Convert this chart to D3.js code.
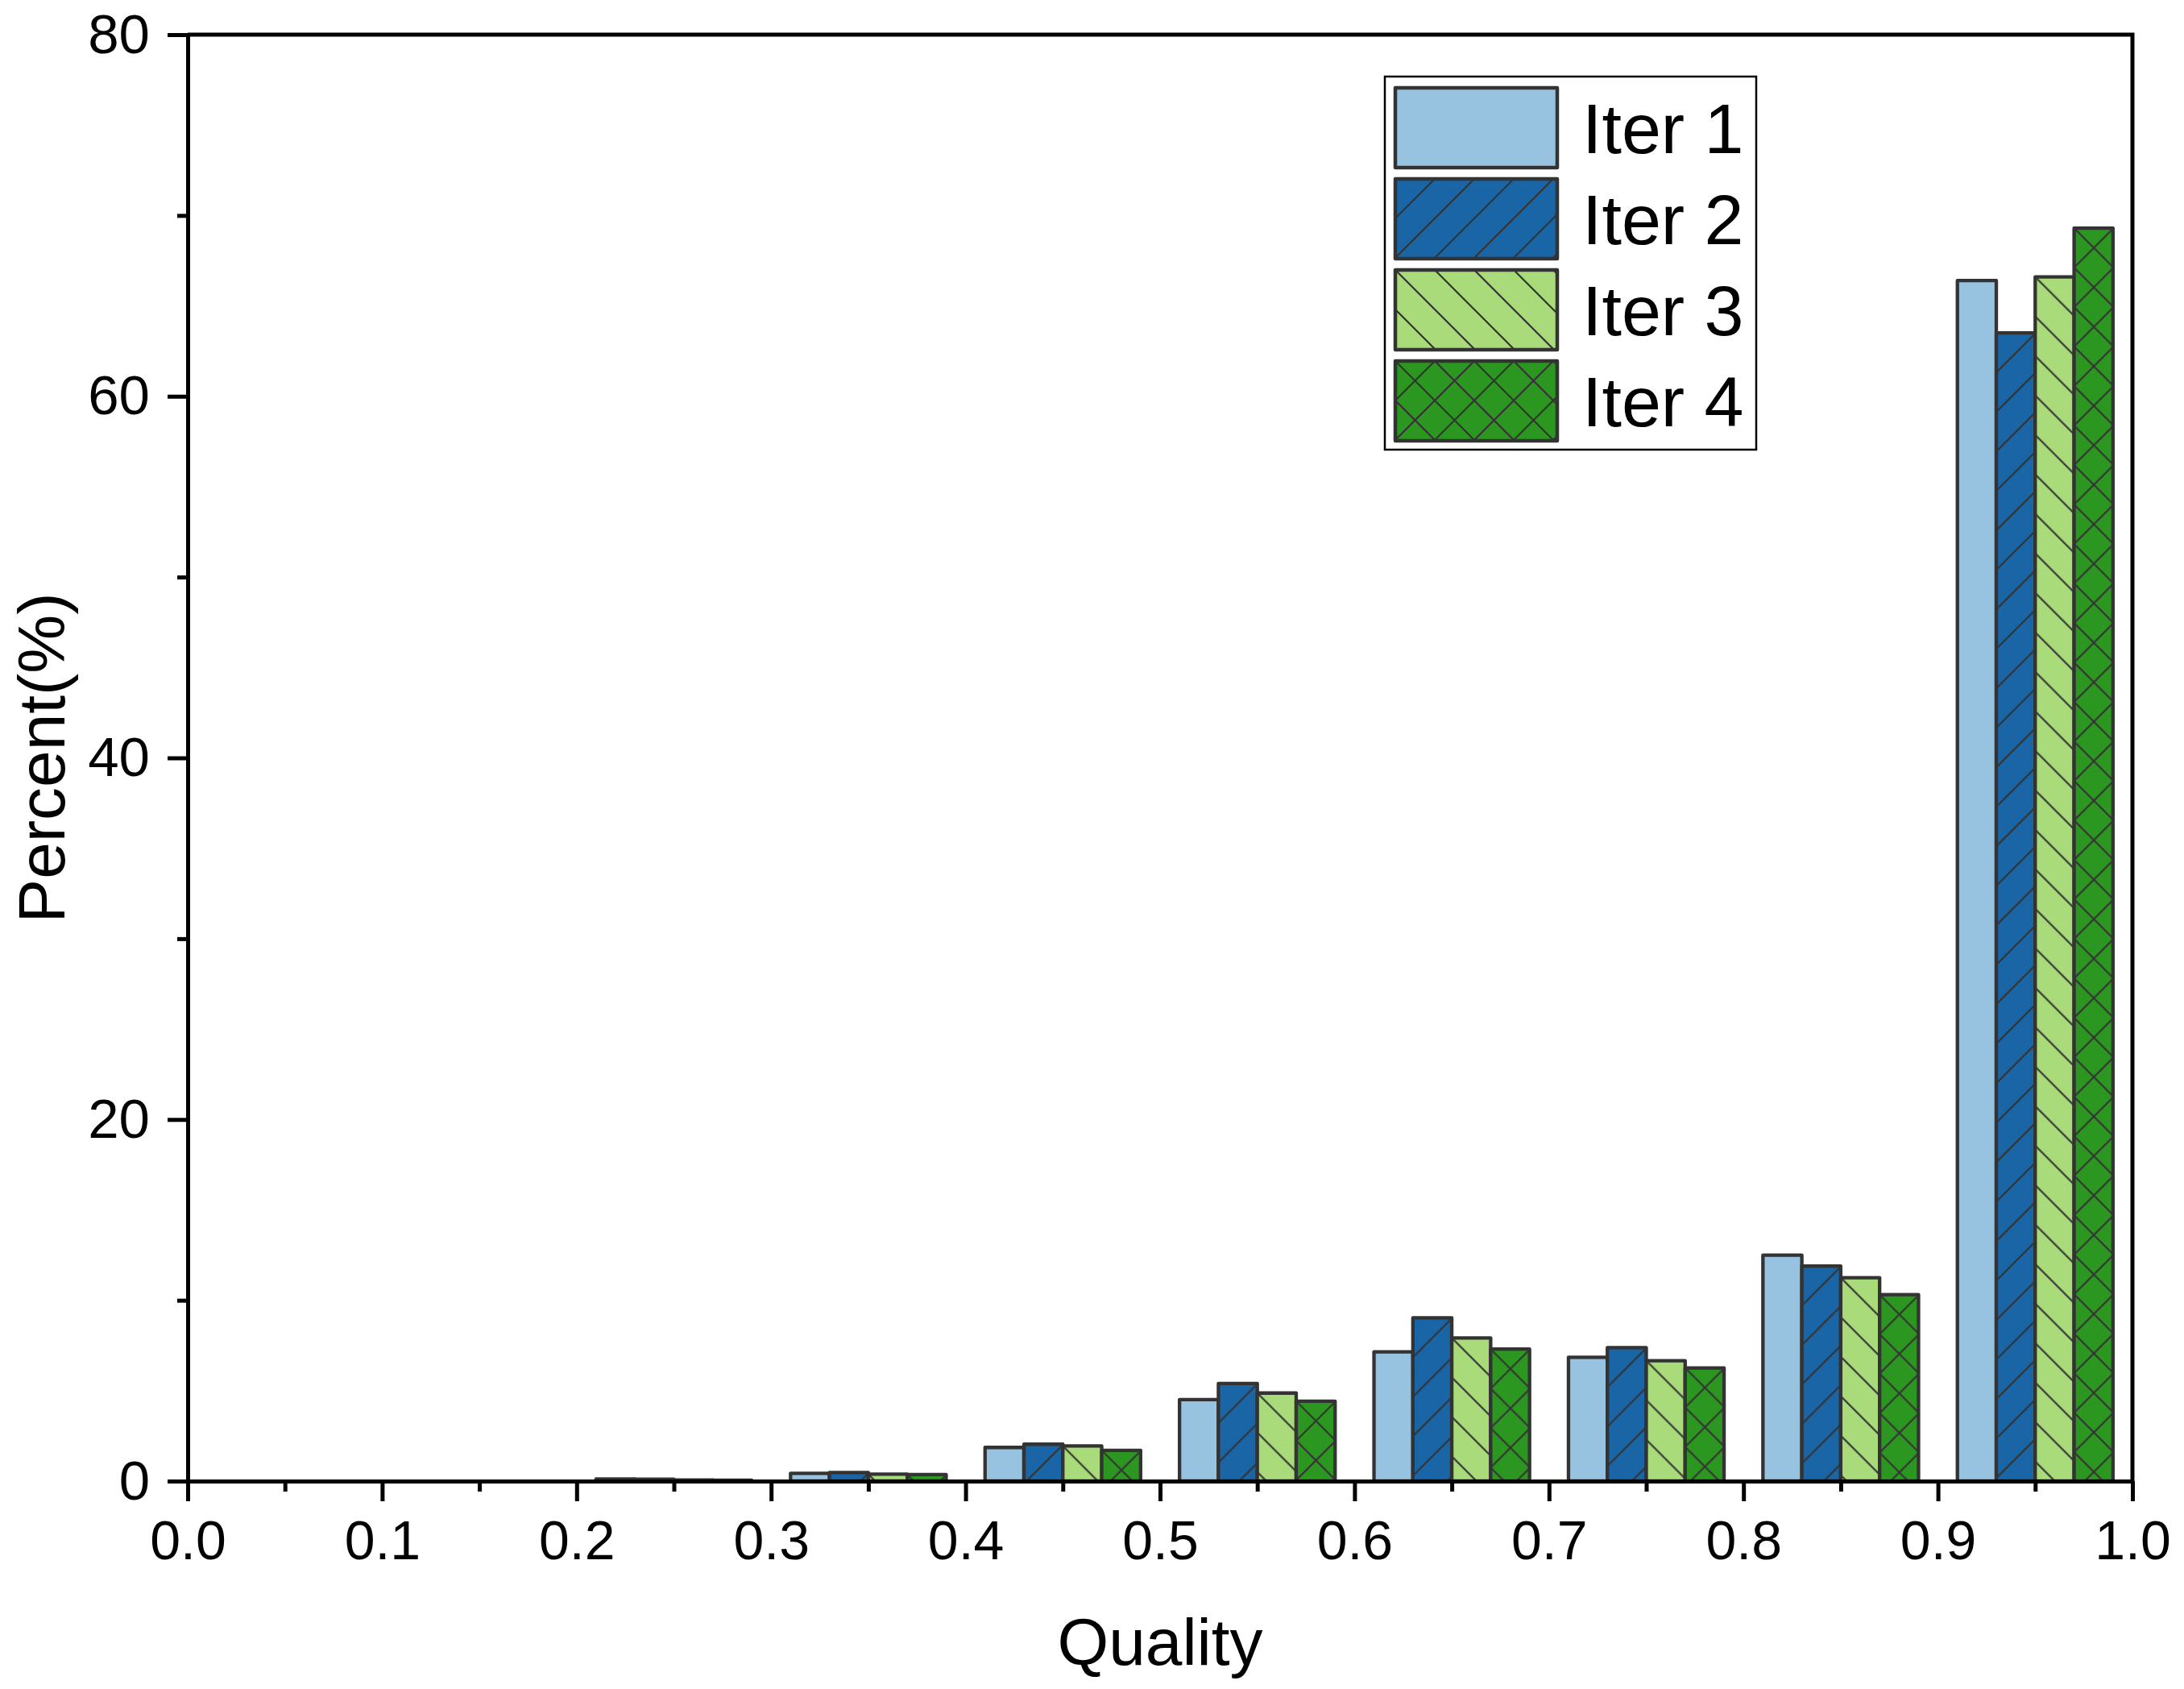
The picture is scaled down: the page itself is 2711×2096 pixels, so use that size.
<!DOCTYPE html>
<html>
<head>
<meta charset="utf-8">
<script src="https://cdn.jsdelivr.net/npm/d3@7"></script>
<style>
  html, body { margin: 0; padding: 0; background: #fff; }
  svg { display: block; font-family: "Liberation Sans", Arial, sans-serif; }
</style>
</head>
<body>
<svg id="chart" width="2711" height="2096"></svg>
<script>
// ---- data ----
const binStarts = [0.0, 0.1, 0.2, 0.3, 0.4, 0.5, 0.6, 0.7, 0.8, 0.9];
const seriesNames = ["Iter 1", "Iter 2", "Iter 3", "Iter 4"];
const iter1 = [0, 0, 0.12, 0.43, 1.86, 4.51, 7.15, 6.85, 12.50, 66.4];
const iter2 = [0, 0, 0.10, 0.47, 2.04, 5.40, 9.03, 7.38, 11.89, 63.5];
const iter3 = [0, 0, 0.06, 0.38, 1.94, 4.87, 7.92, 6.66, 11.25, 66.6];
const iter4 = [0, 0, 0.05, 0.36, 1.70, 4.42, 7.30, 6.26, 10.31, 69.3];
const xTicks = [0.0, 0.1, 0.2, 0.3, 0.4, 0.5, 0.6, 0.7, 0.8, 0.9, 1.0];
const xMinorTicks = [0.05, 0.15, 0.25, 0.35, 0.45, 0.55, 0.65, 0.75, 0.85, 0.95];
const yTicks = [0, 20, 40, 60, 80];
const yMinorTicks = [10, 30, 50, 70];
const xTitle = "Quality";
const yTitle = "Percent(%)";

// ---- styles ----
const colors = ["#97C3E1", "#1965A5", "#A9DB7A", "#2C9720"];
const hatches = [null, "fwd", "back", "cross"];
const barWidth = 0.02, groupOffset = 0.01;

const svg = d3.select("#chart");
const W = 2711, H = 2096;
const pL = 233, pR = 2647, pT = 43, pB = 1838;

svg.append("rect").attr("width", W).attr("height", H).attr("fill", "#fff");

const x = d3.scaleLinear().domain([0, 1]).range([pL, pR]);
const y = d3.scaleLinear().domain([0, 80]).range([pB, pT]);

// ---- patterns (anchored at each shape's top-left via local coords) ----
const defs = svg.append("defs");
const T = 49;
function makePattern(id, color, type) {
  const p = defs.append("pattern").attr("id", id)
    .attr("patternUnits", "userSpaceOnUse")
    .attr("width", T).attr("height", T);
  p.append("rect").attr("width", T).attr("height", T).attr("fill", color);
  const fwd = `M0,${T} L${T},0 M-12,12 L12,-12 M${T-12},${T+12} L${T+12},${T-12}`;
  const back = `M0,0 L${T},${T} M-12,${T-12} L12,${T+12} M${T-12},-12 L${T+12},12`;
  const d = type === "fwd" ? fwd : type === "back" ? back : fwd + " " + back;
  p.append("path").attr("d", d).attr("stroke", "#333").attr("stroke-width", 2.2).attr("fill", "none");
}
const fills = colors.map((c, i) => {
  if (!hatches[i]) return c;
  makePattern("pat" + i, c, hatches[i]);
  return "url(#pat" + i + ")";
});

// ---- bars ----
const series = [iter1, iter2, iter3, iter4];
const barData = [];
series.forEach((vals, si) => {
  vals.forEach((v, bi) => {
    barData.push({ s: si, x0: binStarts[bi] + groupOffset + si * barWidth, v: v });
  });
});
const barG = svg.append("g").selectAll("g").data(barData.filter(d => d.v > 0)).join("g")
  .attr("transform", d => `translate(${x(d.x0)},${y(d.v)})`);
barG.append("rect")
  .attr("x", 0).attr("y", 0)
  .attr("width", d => x(d.x0 + barWidth) - x(d.x0))
  .attr("height", d => y(0) - y(d.v))
  .attr("fill", d => fills[d.s])
  .attr("stroke", "#333")
  .attr("stroke-width", 4.3)
  .attr("stroke-linejoin", "round");

// ---- frame (top & right) ----
svg.append("path")
  .attr("d", `M${pL},${pT} L${pR},${pT} L${pR},${pB}`)
  .attr("fill", "none").attr("stroke", "#000").attr("stroke-width", 5);

// ---- axes ----
const axisW = 5;
function styleAxis(g, fs) {
  g.selectAll(".domain").attr("stroke", "#000").attr("stroke-width", axisW);
  g.selectAll(".tick line").attr("stroke", "#000").attr("stroke-width", axisW);
  g.selectAll(".tick text").attr("fill", "#000").attr("font-size", fs)
    .attr("font-family", '"Liberation Sans", Arial, sans-serif');
}
const xAxisMinor = svg.append("g").attr("transform", `translate(0,${pB})`)
  .call(d3.axisBottom(x).tickValues(xMinorTicks).tickSize(13).tickFormat(""));
styleAxis(xAxisMinor, 68);
xAxisMinor.select(".domain").remove();
const xAxis = svg.append("g").attr("transform", `translate(0,${pB})`)
  .call(d3.axisBottom(x).tickValues(xTicks).tickSize(25).tickSizeOuter(0)
    .tickPadding(24).tickFormat(d3.format(".1f")));
styleAxis(xAxis, 68);

const yAxisMinor = svg.append("g").attr("transform", `translate(${pL},0)`)
  .call(d3.axisLeft(y).tickValues(yMinorTicks).tickSize(13).tickFormat(""));
styleAxis(yAxisMinor, 69);
yAxisMinor.select(".domain").remove();
const yAxis = svg.append("g").attr("transform", `translate(${pL},0)`)
  .call(d3.axisLeft(y).tickValues(yTicks).tickSize(25).tickSizeOuter(0)
    .tickPadding(22).tickFormat(d3.format("d")));
styleAxis(yAxis, 69);

// ---- titles ----
svg.append("text").attr("x", (pL + pR) / 2).attr("y", 2066)
  .attr("text-anchor", "middle").attr("font-size", 82).attr("fill", "#000").text(xTitle);
svg.append("text").attr("transform", `translate(80,${(pT + pB) / 2}) rotate(-90)`)
  .attr("text-anchor", "middle").attr("font-size", 82).attr("fill", "#000").text(yTitle);

// ---- legend ----
const lg = svg.append("g");
lg.append("rect").attr("x", 1719).attr("y", 95).attr("width", 461).attr("height", 463)
  .attr("fill", "#fff").attr("stroke", "#000").attr("stroke-width", 2.5);
seriesNames.forEach((name, i) => {
  const sy = 109 + i * 113;
  const sg = lg.append("g").attr("transform", `translate(1732,${sy})`);
  sg.append("rect").attr("x", 0).attr("y", 0).attr("width", 201).attr("height", 99)
    .attr("fill", fills[i]).attr("stroke", "#333").attr("stroke-width", 4.5)
    .attr("stroke-linejoin", "round");
  lg.append("text").attr("x", 1964).attr("y", sy + 81)
    .attr("font-size", 88).attr("fill", "#000").text(name);
});
</script>
</body>
</html>
